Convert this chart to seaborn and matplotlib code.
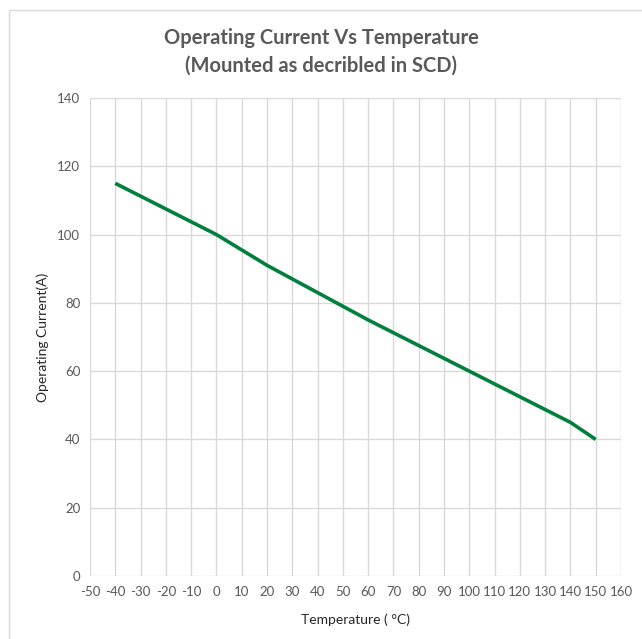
import matplotlib
matplotlib.use("Agg")
import pandas as pd
import seaborn as sns
from matplotlib import pyplot as plt
from matplotlib.patches import Rectangle

temperature = [-40, -20, 0, 20, 40, 60, 80, 100, 120, 140, 150]
current = [115, 107.5, 100, 91, 83, 75, 67.5, 60, 52.5, 45, 40]
x_ticks = list(range(-50, 161, 10))
y_ticks = list(range(0, 141, 20))

sns.set_style('white')
plt.rcParams['font.family'] = ['Lato', 'DejaVu Sans']
plt.rcParams['axes.unicode_minus'] = False

df = pd.DataFrame({'Temperature': temperature, 'Current': current})

fig = plt.figure(figsize=(6.42, 6.39), dpi=100)
ax = fig.add_axes([90 / 642, 1 - 576 / 639, (621 - 90) / 642, (576 - 98) / 639])

sns.lineplot(data=df, x='Temperature', y='Current', ax=ax,
             color='#00803c', linewidth=2.6, solid_capstyle='butt')

ax.set_xlim(-50, 160)
ax.set_ylim(0, 140)
ax.set_xticks(x_ticks)
ax.set_yticks(y_ticks)
ax.grid(True, color='#d9d9d9', linewidth=1)
ax.set_axisbelow(True)
for side in ['top', 'right', 'left', 'bottom']:
    ax.spines[side].set_visible(False)
ax.tick_params(axis='both', length=0, labelsize=9.5, labelcolor='#595959', pad=7)

ax.set_xlabel('Temperature ( °C)', fontsize=10, color='#262626', labelpad=11)
ax.set_ylabel('Operating Current(A)', fontsize=10, color='#262626', labelpad=6)

fig.text(0.5, 1 - 52 / 639, 'Operating Current Vs Temperature\n(Mounted as decribled in SCD)',
         ha='center', va='center', fontsize=14.5, fontweight='bold',
         color='#595959', linespacing=1.45)

fig.patches.append(Rectangle((9 / 642, -0.05), 1.2, 1 - 10 / 639 + 0.05,
                             transform=fig.transFigure, fill=False,
                             edgecolor='#d9d9d9', linewidth=1))

fig.savefig('out.png', dpi=100)
